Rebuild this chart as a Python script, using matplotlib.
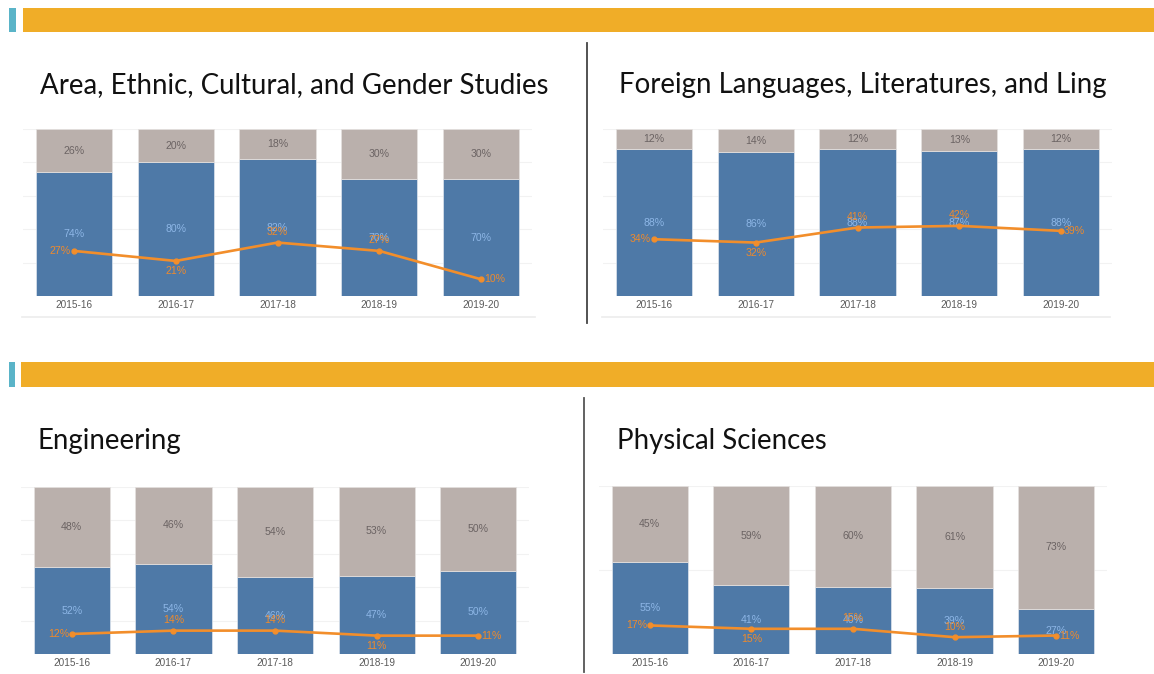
import matplotlib
matplotlib.use("Agg")
import matplotlib.pyplot as plt
from matplotlib.patches import Rectangle
from matplotlib.lines import Line2D

years = ["2015-16", "2016-17", "2017-18", "2018-19", "2019-20"]

titles = ["Area, Ethnic, Cultural, and Gender Studies",
          "Foreign Languages, Literatures, and Ling",
          "Engineering",
          "Physical Sciences"]

blue_area = [74, 80, 82, 70, 70]
gray_area = [26, 20, 18, 30, 30]
line_area = [27, 21, 32, 27, 10]

blue_lang = [88, 86, 88, 87, 88]
gray_lang = [12, 14, 12, 13, 12]
line_lang = [34, 32, 41, 42, 39]

blue_eng = [52, 54, 46, 47, 50]
gray_eng = [48, 46, 54, 53, 50]
line_eng = [12, 14, 14, 11, 11]

blue_phys = [55, 41, 40, 39, 27]
gray_phys = [45, 59, 60, 61, 73]
line_phys = [17, 15, 15, 10, 11]

# label placement for line values: l=left, b=below, a=above, r=right
line_pos = ["l", "b", "a", "a", "r"]
line_pos_eng = ["l", "a", "a", "b", "r"]

W, H = 1154, 674
fig = plt.figure(figsize=(W / 100, H / 100), dpi=100)
fig.patch.set_facecolor("white")

BLUE = "#4e79a7"
GRAY = "#bab0ac"
ORANGE = "#f28e2b"
BLUE_TXT = "#8db6e6"
GRAY_TXT = "#6b6363"
ORANGE_TXT = "#ef8a2c"
TICK_TXT = "#5a5a5a"
LBL = 7.6


def fx(x):
    return x / W


def fy(y):
    return 1 - y / H


# banners
for (y0, y1, cx0, cx1, ox0) in [(8, 32, 9, 16, 23), (362, 387, 9, 15, 21)]:
    fig.add_artist(Rectangle((fx(ox0), fy(y1)), fx(W - ox0), (y1 - y0) / H,
                             transform=fig.transFigure, color="#f0ad28", lw=0))
    fig.add_artist(Rectangle((fx(cx0), fy(y1)), fx(cx1 - cx0), (y1 - y0) / H,
                             transform=fig.transFigure, color="#5ab4c8", lw=0))

# dividers
fig.add_artist(Line2D([fx(586.5), fx(586.5)], [fy(43), fy(323)],
                      transform=fig.transFigure, color="#444444", lw=1.3))
fig.add_artist(Line2D([fx(584), fx(584)], [fy(398), fy(672)],
                      transform=fig.transFigure, color="#555555", lw=1.3))
# faint frame lines below top panels
fig.add_artist(Line2D([fx(22), fx(535)], [fy(317), fy(317)],
                      transform=fig.transFigure, color="#ececec", lw=1.2))
fig.add_artist(Line2D([fx(602), fx(1110)], [fy(317), fy(317)],
                      transform=fig.transFigure, color="#ececec", lw=1.2))

panels = [
    (titles[0], blue_area, gray_area, line_area, line_pos, (23, 129, 532, 296), (40, 85), [20, 40, 60, 80, 100]),
    (titles[1], blue_lang, gray_lang, line_lang, line_pos, (603, 129, 1112, 296), (619, 85), [20, 40, 60, 80, 100]),
    (titles[2], blue_eng, gray_eng, line_eng, line_pos_eng, (21, 487, 529, 654), (38, 441), [20, 40, 60, 80, 100]),
    (titles[3], blue_phys, gray_phys, line_phys, line_pos, (599, 486, 1107, 654), (617, 441), [50, 100]),
]

for title, blue, gray, line, pos, (x0, y0, x1, y1), (tx, ty), grid in panels:
    ax = fig.add_axes([fx(x0), fy(y1), fx(x1 - x0), (y1 - y0) / H])
    xs = list(range(len(years)))
    ax.set_xlim(-0.5, len(years) - 0.5)
    ax.set_ylim(0, 100)
    for g in grid:
        ax.axhline(g, color="#f2f2f2", lw=0.8, zorder=0)
    ax.bar(xs, blue, width=0.75, color=BLUE, edgecolor="#dfe6ee", lw=0.5, zorder=2)
    ax.bar(xs, gray, width=0.75, bottom=blue, color=GRAY, edgecolor="#e6e2e0", lw=0.5, zorder=2)
    for i in xs:
        ax.text(i, blue[i] + gray[i] / 2, f"{gray[i]}%", ha="center", va="center",
                fontsize=LBL, color=GRAY_TXT, family="Liberation Sans", zorder=3)
        ax.text(i, blue[i] / 2, f"{blue[i]}%", ha="center", va="center",
                fontsize=LBL, color=BLUE_TXT, family="Liberation Sans", zorder=3)
    ax.plot(xs, line, color=ORANGE, lw=1.9, marker="o", markersize=3.5, zorder=4)
    for i in xs:
        p = pos[i]
        if p == "l":
            kw = dict(xytext=(-2, 0), ha="right", va="center")
        elif p == "r":
            kw = dict(xytext=(2, 0), ha="left", va="center")
        elif p == "a":
            kw = dict(xytext=(0, 7.5), ha="center", va="center")
        else:
            kw = dict(xytext=(0, -7.5), ha="center", va="center")
        ax.annotate(f"{line[i]}%", (i, line[i]), textcoords="offset points",
                    fontsize=LBL, color=ORANGE_TXT, family="Liberation Sans", zorder=5, **kw)
    ax.set_xticks(xs)
    ax.set_xticklabels(years, fontsize=7.2, color=TICK_TXT, family="Liberation Sans")
    ax.tick_params(axis="x", length=0, pad=3)
    ax.set_yticks([])
    for s in ax.spines.values():
        s.set_visible(False)
    fig.text(fx(tx), fy(ty), title, ha="left", va="center", fontsize=19.9,
             family="Lato", color="#111111")

fig.savefig("out.png", dpi=100, facecolor="white")
